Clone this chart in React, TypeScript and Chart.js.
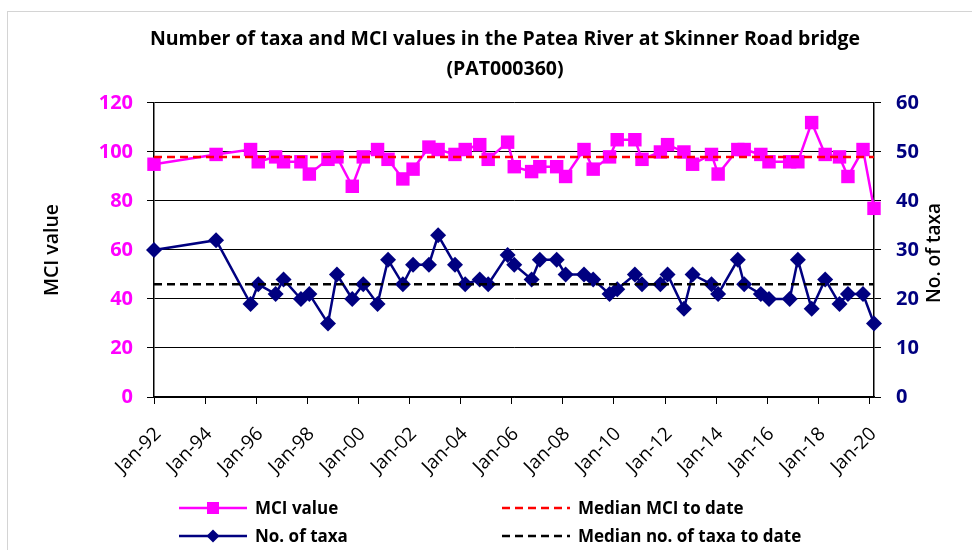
import React, { useEffect, useRef } from 'react';
import { Chart, registerables } from 'chart.js';

Chart.register(...registerables);

const FONT = '"Open Sans", "Noto Sans", sans-serif';

// Sampling dates as decimal years
const sampleDates = [
  1992.0, 1994.43, 1995.78, 1996.08, 1996.76, 1997.07, 1997.75, 1998.08, 1998.81, 1999.16,
  1999.76, 2000.19, 2000.75, 2001.16, 2001.74, 2002.14, 2002.76, 2003.12, 2003.78, 2004.18,
  2004.75, 2005.08, 2005.84, 2006.1, 2006.78, 2007.1, 2007.76, 2008.11, 2008.83, 2009.19,
  2009.83, 2010.13, 2010.82, 2011.1, 2011.82, 2012.1, 2012.74, 2013.08, 2013.82, 2014.08,
  2014.85, 2015.1, 2015.75, 2016.07, 2016.88, 2017.2, 2017.74, 2018.27, 2018.83, 2019.16,
  2019.75, 2020.18,
];

const mciValues = [
  95, 99, 101, 96, 98, 96, 96, 91, 97, 98,
  86, 98, 101, 97, 89, 93, 102, 101, 99, 101,
  103, 97, 104, 94, 92, 94, 94, 90, 101, 93,
  98, 105, 105, 97, 100, 103, 100, 95, 99, 91,
  101, 101, 99, 96, 96, 96, 112, 99, 98, 90,
  101, 77,
];

const taxaCounts = [
  30, 32, 19, 23, 21, 24, 20, 21, 15, 25,
  20, 23, 19, 28, 23, 27, 27, 33, 27, 23,
  24, 23, 29, 27, 24, 28, 28, 25, 25, 24,
  21, 22, 25, 23, 23, 25, 18, 25, 23, 21,
  28, 23, 21, 20, 20, 28, 18, 24, 19, 21,
  21, 15,
];

const medianMci = 98;
const medianTaxa = 23;

const xTickYears = [1992, 1994, 1996, 1998, 2000, 2002, 2004, 2006, 2008, 2010, 2012, 2014, 2016, 2018, 2020];

const chartTitle = ['Number of taxa and MCI values in the Patea River at Skinner Road bridge', '(PAT000360)'];
const leftAxisTitle = 'MCI value';
const rightAxisTitle = 'No. of taxa';
const seriesLabels = ['MCI value', 'No. of taxa', 'Median MCI to date', 'Median no. of taxa to date'];

const xMin = sampleDates[0];
const xMax = sampleDates[sampleDates.length - 1];

const extrasPlugin = {
  id: 'extras',
  afterDraw(chart: any) {
    const ctx = chart.ctx as CanvasRenderingContext2D;
    const area = chart.chartArea;
    // right axis title (reads bottom to top)
    ctx.save();
    ctx.font = `600 19px ${FONT}`;
    ctx.fillStyle = '#000';
    ctx.textAlign = 'center';
    ctx.textBaseline = 'middle';
    ctx.translate(927, (area.top + area.bottom) / 2 + 3);
    ctx.rotate(-Math.PI / 2);
    ctx.fillText(rightAxisTitle, 0, 0);
    ctx.restore();

    // legend: two columns, two rows
    const cols = [171, 494];
    const rows = [500, 528];
    const lineLen = 68;
    const slots = [
      [0, 0],
      [0, 1],
      [1, 0],
      [1, 1],
    ];
    chart.data.datasets.forEach((ds: any, i: number) => {
      const [c, r] = slots[i];
      const x0 = cols[c];
      const y = rows[r];
      ctx.save();
      ctx.strokeStyle = ds.borderColor;
      ctx.lineWidth = ds.borderWidth;
      ctx.setLineDash(ds.borderDash || []);
      ctx.beginPath();
      ctx.moveTo(x0, y);
      ctx.lineTo(x0 + lineLen, y);
      ctx.stroke();
      ctx.setLineDash([]);
      const cx = x0 + lineLen / 2;
      ctx.fillStyle = ds.backgroundColor;
      if (ds.pointStyle === 'rect' && ds.pointRadius > 0) {
        ctx.fillRect(cx - 6, y - 6, 12, 12);
      } else if (ds.pointStyle === 'rectRot' && ds.pointRadius > 0) {
        ctx.beginPath();
        ctx.moveTo(cx, y - 6.5);
        ctx.lineTo(cx + 6.5, y);
        ctx.lineTo(cx, y + 6.5);
        ctx.lineTo(cx - 6.5, y);
        ctx.closePath();
        ctx.fill();
      }
      ctx.font = `bold 17px ${FONT}`;
      ctx.fillStyle = '#000';
      ctx.textAlign = 'left';
      ctx.textBaseline = 'middle';
      ctx.fillText(ds.label, x0 + lineLen + 8, y + 1);
      ctx.restore();
    });
  },
};

export default function App() {
  const canvasRef = useRef<HTMLCanvasElement | null>(null);

  useEffect(() => {
    const canvas = canvasRef.current;
    if (!canvas) return;

    const mciPoints = sampleDates.map((d, i) => ({ x: d, y: mciValues[i] }));
    const taxaPoints = sampleDates.map((d, i) => ({ x: d, y: taxaCounts[i] }));

    const chart = new Chart(canvas, {
      type: 'line',
      data: {
        datasets: [
          {
            label: seriesLabels[0],
            data: mciPoints,
            yAxisID: 'y',
            borderColor: '#FF00FF',
            backgroundColor: '#FF00FF',
            borderWidth: 2.5,
            pointStyle: 'rect',
            pointRadius: 9.5,
            pointBorderWidth: 0,
            tension: 0,
            clip: false,
            order: 1,
          },
          {
            label: seriesLabels[1],
            data: taxaPoints,
            yAxisID: 'y1',
            borderColor: '#000080',
            backgroundColor: '#000080',
            borderWidth: 2.5,
            pointStyle: 'rectRot',
            pointRadius: 8,
            pointBorderWidth: 0,
            tension: 0,
            clip: false,
            order: 2,
          },
          {
            label: seriesLabels[2],
            data: [
              { x: xMin, y: medianMci },
              { x: xMax, y: medianMci },
            ],
            yAxisID: 'y',
            borderColor: '#FF0000',
            backgroundColor: '#FF0000',
            borderWidth: 2.5,
            borderDash: [8, 5],
            pointRadius: 0,
            order: 0,
          },
          {
            label: seriesLabels[3],
            data: [
              { x: xMin, y: medianTaxa },
              { x: xMax, y: medianTaxa },
            ],
            yAxisID: 'y1',
            borderColor: '#000000',
            backgroundColor: '#000000',
            borderWidth: 2.5,
            borderDash: [8, 5],
            pointRadius: 0,
            order: 0,
          },
        ],
      } as any,
      options: {
        animation: false,
        responsive: false,
        maintainAspectRatio: false,
        layout: { padding: { left: 30, right: 0, top: 0, bottom: 0 } },
        plugins: {
          legend: { display: false },
          tooltip: { enabled: false },
          title: {
            display: true,
            text: chartTitle,
            color: '#000',
            font: { family: FONT, size: 19.5, weight: 'bold', lineHeight: 1.52 },
            padding: { top: 17, bottom: 18.7 },
          },
        },
        scales: {
          x: {
            type: 'linear',
            min: xMin,
            max: xMax,
            afterBuildTicks: (scale: any) => {
              scale.ticks = xTickYears.map((v) => ({ value: v }));
            },
            afterFit: (scale: any) => {
              scale.height = 153;
            },
            ticks: {
              autoSkip: false,
              minRotation: 45,
              maxRotation: 45,
              padding: 19,
              labelOffset: 4,
              color: '#000',
              font: { family: FONT, size: 19 },
              callback: (v: any) => 'Jan-' + String(Math.round(Number(v)) % 100).padStart(2, '0'),
            },
            grid: { drawOnChartArea: false, drawTicks: true, tickLength: 7, color: '#000' },
            border: { display: true, color: '#000', width: 1.5 },
          },
          y: {
            position: 'left',
            min: 0,
            max: 120,
            afterFit: (scale: any) => {
              scale.width = 116;
            },
            ticks: {
              stepSize: 20,
              padding: 14,
              color: '#FF00FF',
              font: { family: FONT, size: 20, weight: 'bold' },
            },
            grid: { color: '#000', lineWidth: 1, tickLength: 7, drawTicks: true },
            border: { display: true, color: '#000', width: 1.5 },
            title: {
              display: true,
              text: leftAxisTitle,
              color: '#000',
              font: { family: FONT, size: 19.5, weight: '600' },
              padding: { top: 3, bottom: 0 },
            },
          },
          y1: {
            position: 'right',
            min: 0,
            max: 60,
            afterFit: (scale: any) => {
              scale.width = 98;
            },
            ticks: {
              stepSize: 10,
              padding: 15,
              color: '#000080',
              font: { family: FONT, size: 20, weight: 'bold' },
            },
            grid: { drawOnChartArea: false, drawTicks: true, tickLength: 7, color: '#000' },
            border: { display: true, color: '#000', width: 1.5 },
          },
        },
      } as any,
      plugins: [extrasPlugin],
    });

    return () => chart.destroy();
  }, []);

  return (
    <div style={{ position: 'fixed', left: 0, top: 0, width: 972, height: 550, overflow: 'hidden', background: '#fff' }}>
      <div
        style={{
          position: 'absolute',
          left: 7,
          top: 11,
          width: 1000,
          height: 1000,
          border: '1px solid #d4d4d4',
        }}
      />
      <canvas
        ref={canvasRef}
        width={964}
        height={542}
        style={{ position: 'absolute', left: 8, top: 8, width: 964, height: 542, display: 'block' }}
      />
    </div>
  );
}
